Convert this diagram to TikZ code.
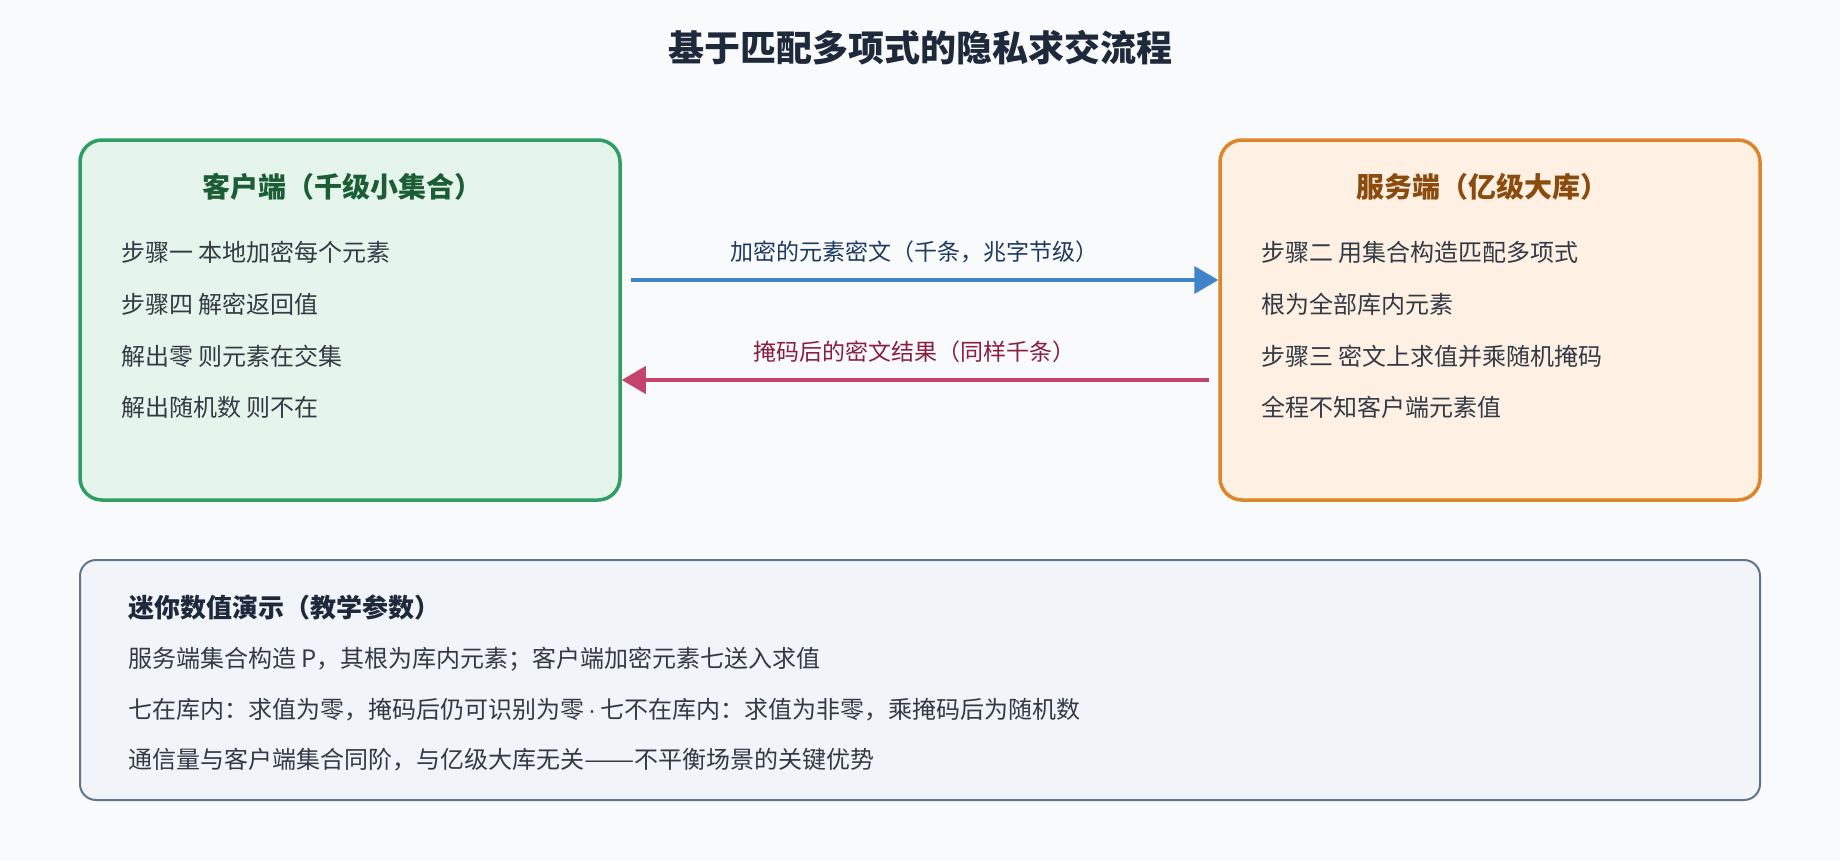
\documentclass[tikz,border=0pt]{standalone}
\usepackage{fontspec}
\usepackage{graphicx}
\setmainfont{Noto Sans CJK SC}
\newfontfamily\dotfont{Liberation Sans}
\usetikzlibrary{arrows.meta}
\definecolor{bgc}{HTML}{F8FAFC}
\definecolor{cfill}{HTML}{E6F5EB}
\definecolor{cstroke}{HTML}{2F9E62}
\definecolor{ctitle}{HTML}{1B5E35}
\definecolor{sfill}{HTML}{FEF0E2}
\definecolor{sstroke}{HTML}{DE8529}
\definecolor{stitle}{HTML}{8A4B0F}
\definecolor{bluec}{HTML}{3F84C8}
\definecolor{bluelab}{HTML}{1E3A5F}
\definecolor{redc}{HTML}{C4456C}
\definecolor{redlab}{HTML}{8B1E3F}
\definecolor{dfill}{HTML}{F1F5F9}
\definecolor{dstroke}{HTML}{64748B}
\definecolor{titlec}{HTML}{1E293B}
\definecolor{bodyc}{HTML}{333A45}
\tikzset{
  panel/.style={draw, line width=3.5pt, rounded corners=22pt, minimum width=540pt, minimum height=360pt, inner sep=0pt},
  demobox/.style={draw=dstroke, fill=dfill, line width=2pt, rounded corners=16pt, minimum width=1680pt, minimum height=240pt, inner sep=0pt},
  boxtitle/.style={font=\fontsize{28}{32}\selectfont\bfseries, inner sep=0pt},
  item/.style={font=\fontsize{24}{29}\selectfont, text=bodyc, anchor=west, inner sep=0pt},
  arrlabel/.style={font=\fontsize{23}{28}\selectfont, inner sep=0pt},
  flow/.style={line width=4pt, -{Triangle[length=24pt,width=27pt]}}
}
\begin{document}
\begin{tikzpicture}[x=1pt,y=-1pt]
\fill[bgc] (0,0) rectangle (1840,860);
\useasboundingbox (0,0) rectangle (1840,860);

\node[font=\fontsize{36}{42}\selectfont\bfseries, text=titlec, inner sep=0pt] (title) at (920,48) {基于匹配多项式的隐私求交流程};

% client
\node[panel, draw=cstroke, fill=cfill] (client) at (350,320) {};
\node[boxtitle, text=ctitle] (ctitle) at (342,187) {客户端（千级小集合）};
\node[item] (c1) at (121,252) {步骤一 本地加密每个元素};
\node[item] (c2) at (121,304) {步骤四 解密返回值};
\node[item] (c3) at (121,356) {解出零 则元素在交集};
\node[item] (c4) at (121,407) {解出随机数 则不在};

% server
\node[panel, draw=sstroke, fill=sfill] (server) at (1490,320) {};
\node[boxtitle, text=stitle] (stitle) at (1482,187) {服务端（亿级大库）};
\node[item] (s1) at (1261,252) {步骤二 用集合构造匹配多项式};
\node[item] (s2) at (1261,304) {根为全部库内元素};
\node[item] (s3) at (1261,356) {步骤三 密文上求值并乘随机掩码};
\node[item] (s4) at (1261,407) {全程不知客户端元素值};

% arrows
\coordinate (a1s) at (631,280);
\coordinate (a2s) at (1209,380);
\draw[flow, draw=bluec, fill=bluec] (a1s) -- (server.west |- a1s);
\draw[flow, draw=redc, fill=redc] (a2s) -- (client.east |- a2s);
\node[arrlabel, text=bluelab] (l1) at (914,252) {加密的元素密文（千条，兆字节级）};
\node[arrlabel, text=redlab] (l2) at (914,352) {掩码后的密文结果（同样千条）};

% demo
\node[demobox] (demo) at (920,680) {};
\node[item, font=\fontsize{26}{31}\selectfont\bfseries, text=titlec] (dh) at (128,608) {迷你数值演示（教学参数）};
\node[item] (d1) at (128,659) {服务端集合构造 P，其根为库内元素；客户端加密元素七送入求值};
\node[item] (d2) at (128,710) {七在库内：求值为零，掩码后仍可识别为零{\dotfont\kern4pt·\kern4pt}七不在库内：求值为非零，乘掩码后为随机数};
\node[item] (d3) at (128,760) {通信量与客户端集合同阶，与亿级大库无关\scalebox{1.25}[1]{——}不平衡场景的关键优势};
\end{tikzpicture}
\end{document}
